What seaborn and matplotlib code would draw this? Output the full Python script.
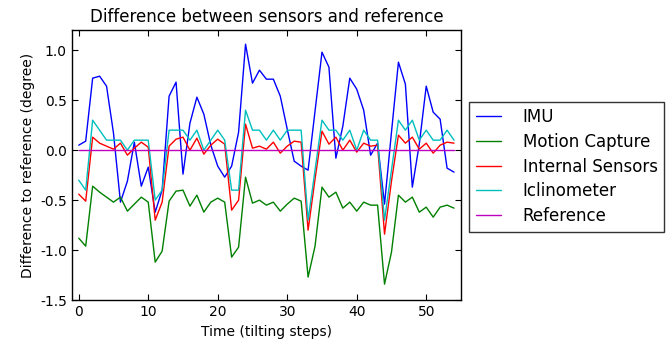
import matplotlib
matplotlib.use("Agg")
import matplotlib.pyplot as plt
import seaborn as sns
import pandas as pd

steps = list(range(55))

imu = [0.05, 0.09, 0.72, 0.74, 0.64, 0.17, -0.52, -0.31, 0.08, -0.36,
       -0.17, -0.62, -0.40, 0.54, 0.68, -0.24, 0.27, 0.53, 0.36, 0.05,
       -0.16, -0.27, -0.16, 0.18, 1.06, 0.67, 0.80, 0.71, 0.71, 0.54,
       0.21, -0.11, -0.16, -0.20, 0.39, 0.98, 0.83, -0.08, 0.24, 0.72,
       0.61, 0.40, -0.05, 0.07, -0.54, 0.18, 0.88, 0.66, -0.37, 0.06,
       0.64, 0.38, 0.31, -0.18, -0.22]

motion_capture = [-0.88, -0.96, -0.36, -0.42, -0.47, -0.52, -0.47, -0.61, -0.54, -0.47,
                  -0.52, -1.12, -1.01, -0.51, -0.41, -0.40, -0.56, -0.45, -0.62, -0.52,
                  -0.48, -0.52, -1.07, -0.97, -0.27, -0.53, -0.50, -0.55, -0.52, -0.61,
                  -0.54, -0.48, -0.51, -1.27, -0.96, -0.37, -0.47, -0.42, -0.58, -0.52,
                  -0.61, -0.52, -0.55, -0.55, -1.34, -1.02, -0.45, -0.52, -0.47, -0.62,
                  -0.57, -0.67, -0.57, -0.55, -0.58]

internal_sensors = [-0.44, -0.51, 0.13, 0.07, 0.04, 0.01, 0.07, -0.05, 0.02, 0.08,
                    0.03, -0.70, -0.52, 0.04, 0.11, 0.13, 0.00, 0.12, -0.04, 0.05,
                    0.11, 0.06, -0.60, -0.50, 0.26, 0.02, 0.04, 0.01, 0.08, -0.03,
                    0.04, 0.09, 0.08, -0.80, -0.29, 0.19, 0.06, 0.13, 0.00, 0.10,
                    -0.02, 0.07, 0.04, 0.05, -0.84, -0.31, 0.15, 0.07, 0.13, 0.01,
                    0.07, -0.03, 0.05, 0.08, 0.07]

iclinometer = [-0.3, -0.4, 0.3, 0.2, 0.1, 0.1, 0.1, 0.0, 0.1, 0.1,
               0.1, -0.5, -0.4, 0.2, 0.2, 0.2, 0.1, 0.2, 0.0, 0.1,
               0.2, 0.1, -0.4, -0.4, 0.4, 0.2, 0.2, 0.1, 0.2, 0.1,
               0.2, 0.2, 0.2, -0.7, -0.2, 0.3, 0.2, 0.2, 0.1, 0.2,
               0.0, 0.2, 0.1, 0.1, -0.7, -0.2, 0.3, 0.2, 0.3, 0.1,
               0.2, 0.1, 0.1, 0.2, 0.1]

reference = [0.0] * 55

series_names = ["IMU", "Motion Capture", "Internal Sensors", "Iclinometer", "Reference"]
series_values = [imu, motion_capture, internal_sensors, iclinometer, reference]
colors = ["#0000ff", "#008000", "#ff0000", "#00bfbf", "#bf00bf"]

x_ticks = [0, 10, 20, 30, 40, 50]
y_ticks = [-1.5, -1.0, -0.5, 0.0, 0.5, 1.0]

sns.set_style("ticks", {"xtick.direction": "in", "ytick.direction": "in",
                        "axes.edgecolor": "black", "xtick.color": "black",
                        "ytick.color": "black", "text.color": "black",
                        "axes.labelcolor": "black"})
plt.rcParams["font.family"] = ["DejaVu Sans"]
plt.rcParams["axes.unicode_minus"] = False

fig = plt.figure(figsize=(6.71, 3.43), dpi=100)
ax = fig.add_axes([0.107, 0.125, 0.580, 0.787])

for name, vals, col in zip(series_names, series_values, colors):
    df = pd.DataFrame({"step": steps, "value": vals})
    sns.lineplot(data=df, x="step", y="value", ax=ax, color=col, linewidth=1.0, label=name)

ax.set_xlim(-1, 55)
ax.set_ylim(-1.5, 1.2)
ax.set_xticks(x_ticks)
ax.set_yticks(y_ticks)
ax.tick_params(top=True, right=True, direction="in", length=4, width=0.8, labelsize=10)
for s in ax.spines.values():
    s.set_linewidth(1.0)
    s.set_color("black")

ax.set_title("Difference between sensors and reference", fontsize=12)
ax.set_xlabel("Time (tilting steps)", fontsize=10)
ax.set_ylabel("Difference to reference (degree)", fontsize=10)

leg = ax.legend(loc="center left", bbox_to_anchor=(1.0, 0.495), fontsize=12,
                frameon=True, fancybox=False, edgecolor="black", handlelength=1.5,
                handletextpad=1.3, labelspacing=0.4, borderpad=0.4)
leg.get_frame().set_linewidth(1.0)

fig.savefig("out.png", dpi=100)
